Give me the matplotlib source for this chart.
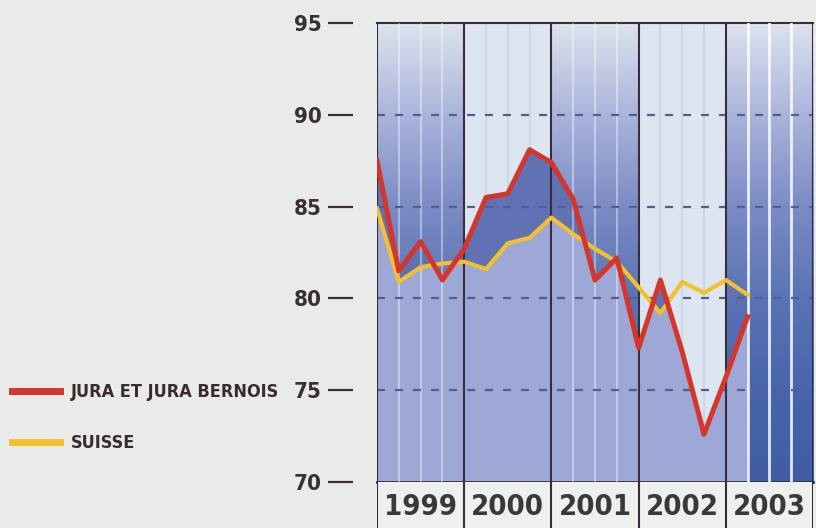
import matplotlib.pyplot as plt
import numpy as np
from matplotlib.colors import LinearSegmentedColormap
from matplotlib.lines import Line2D

# trimestres 1999 T1 .. 2003 T2
years = [1999, 2000, 2001, 2002, 2003]
quarters = 1999 + np.arange(18) * 0.25
jura = [87.5, 81.5, 83.1, 81.0, 82.7, 85.5, 85.7, 88.1, 87.4, 85.4,
        81.0, 82.2, 77.3, 81.0, 77.1, 72.6, 75.7, 79.0]
suisse = [84.9, 80.9, 81.7, 81.9, 82.0, 81.6, 83.0, 83.3, 84.4, 83.5,
          82.7, 82.0, 80.6, 79.2, 80.9, 80.3, 81.0, 80.2]
yticks = [70, 75, 80, 85, 90, 95]
labels = ['JURA ET JURA BERNOIS', 'SUISSE']

RED = '#d4362c'
YEL = '#f2c12c'
INK = '#3a3033'

plt.rcParams['font.family'] = ['Liberation Sans Narrow', 'DejaVu Sans']
plt.rcParams['font.stretch'] = 'condensed'
plt.rcParams['font.weight'] = 'bold'

fig = plt.figure(figsize=(8.16, 5.28), dpi=100, facecolor='#e9ebea')
ax = fig.add_axes([377 / 816, 1 - 482 / 528, 436 / 816, 459 / 528])

# fond : années impaires en dégradé, années paires claires
grad = LinearSegmentedColormap.from_list(
    'fond', [(0, '#3f5ca6'), (0.2, '#4865ab'), (0.4, '#5a73b4'),
             (0.6, '#7b8bc4'), (0.8, '#aab4db'), (1, '#dbe3ee')])
ramp = np.linspace(0, 1, 256).reshape(-1, 1)
for y in years:
    if y % 2:
        ax.imshow(ramp, extent=(y, y + 1, 70, 95), origin='lower',
                  aspect='auto', cmap=grad, zorder=0)
    else:
        ax.axvspan(y, y + 1, color='#dde6f0', lw=0, zorder=0)

# lignes des trimestres
for y in years:
    for q in (0.25, 0.5, 0.75):
        if y == 2003:
            ax.axvline(y + q, color='white', alpha=0.85, lw=2, zorder=3)
        elif y % 2:
            ax.axvline(y + q, color='white', alpha=0.4, lw=1.5, zorder=3)
        else:
            ax.axvline(y + q, color='#c6d5e9', lw=1.3, zorder=0.5)

j = np.array(jura)
s = np.array(suisse)
ax.fill_between(quarters, 70, j, color='#9ea8d6', lw=0, zorder=1)
ax.fill_between(quarters, s, j, where=j >= s, interpolate=True,
                color='#6071b4', lw=0, zorder=2)

for v in yticks[1:-1]:
    ax.axhline(v, color='#525d96', lw=1.6, ls=(0, (3.6, 4.5)), zorder=4)

for y in years + [2004]:
    ax.axvline(y, color='#3a2c3c', lw=1.5, zorder=5)

ax.plot(quarters, suisse, color=YEL, lw=3, zorder=6)
ax.plot(quarters, jura, color=RED, lw=3.6, zorder=7)

ax.set_xlim(1999, 2004)
ax.set_ylim(70, 95)
ax.set_xticks([])
ax.set_yticks(yticks)
ax.spines['left'].set_position(('outward', 17))
ax.spines['left'].set_visible(False)
ax.spines['right'].set_visible(False)
ax.spines['top'].set_color('#3a2c3c')
ax.spines['top'].set_linewidth(1.5)
ax.spines['bottom'].set_color('#3a2c3c')
ax.spines['bottom'].set_linewidth(2)
ax.tick_params(axis='y', length=18, width=1.6, color=INK, pad=5,
               labelsize=16, labelcolor=INK)

# bandeau des années
yax = fig.add_axes([377 / 816, -0.06, 436 / 816, 46 / 528 + 0.06])
yax.set_facecolor('#eef0ef')
yax.set_xlim(1999, 2004)
yax.set_ylim(0, 1)
yax.set_xticks([])
yax.set_yticks([])
for sp in yax.spines.values():
    sp.set_visible(False)
for y in years + [2004]:
    yax.axvline(y, color='#3a2c3c', lw=1.5)
for y in years:
    yax.text(y + 0.5, 0.86, str(y), ha='center', va='top', fontsize=21,
             color='#3d3838')

handles = [Line2D([], [], color=RED, lw=5), Line2D([], [], color=YEL, lw=5)]
fig.legend(handles, labels, loc='upper left', bbox_to_anchor=(12 / 816, 1 - 383 / 528),
           frameon=False, fontsize=13, handlelength=2.65, handletextpad=0.6,
           labelspacing=1.85, borderpad=0, borderaxespad=0, labelcolor='#3a2c2c')

fig.savefig('out.png', dpi=100, facecolor=fig.get_facecolor())
